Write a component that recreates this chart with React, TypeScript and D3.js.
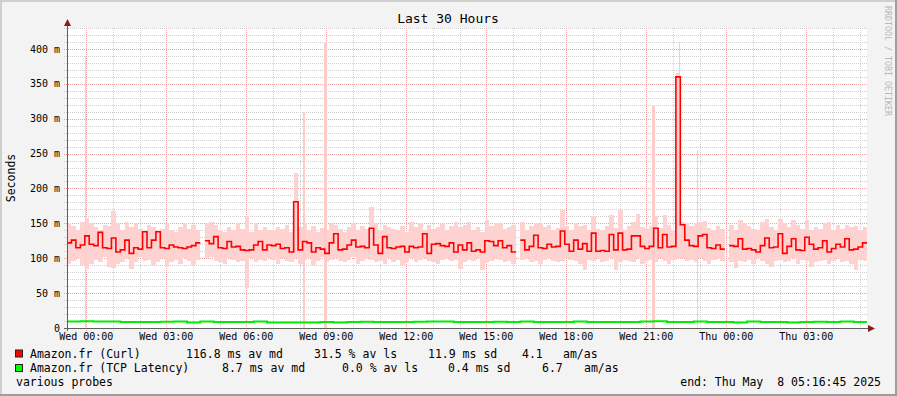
import * as d3 from 'd3';

const WIDTH = 897;
const HEIGHT = 396;
const PLOT = { left: 67, right: 867, top: 28, bottom: 328 };
const FONT = '"DejaVu Sans Mono", monospace';

const startTime = new Date(Date.UTC(2025, 4, 6, 23, 16, 45));
const endTime = new Date(Date.UTC(2025, 4, 8, 5, 16, 45));
const curlStepMinutes = 10;
const tcpStepMinutes = 30;
const yMaxMs = 430;
const yTicks = [0, 50, 100, 150, 200, 250, 300, 350, 400];

const NA = NaN;

// Amazon.fr (Curl), median per 10 min, ms
const curlMedianMs = [
  122, 126, 115, 119, 132, 120, 118, 137, 115, 114,
  129, 109, 112, 126, 107, 115, 113, 138, 115, 126,
  138, 115, 114, 119, 116, 115, 114, 116, 118, 122,
  NA, 125, 121, 131, 115, 114, 124, 116, 117, 112,
  111, 112, 119, 124, 112, 119, 118, 120, 114, 115,
  109, 181, 112, 124, 122, 109, 115, 113, 107, 122,
  135, 112, 113, 119, 126, 116, 117, 115, 143, 119,
  107, 131, 115, 114, 116, 117, 109, 117, 115, 116,
  135, 107, 120, 121, 118, 117, 122, 109, 119, 112,
  122, 110, 112, 109, 125, 124, 118, 125, 115, 118,
  109, NA, 126, 112, 117, 133, 115, 114, 120, 116,
  117, 139, 120, 110, 126, 113, 121, 110, 136, 110,
  111, 110, 134, 112, 136, 112, 113, 132, 132, 117,
  114, 117, 143, 115, 134, 116, 117, 360, 148, 126,
  118, 117, 132, 134, 115, 114, 119, 113, NA, 118,
  117, 128, 113, 114, 112, 109, 118, 129, 115, 116,
  135, 107, 117, 128, 112, 111, 130, 120, 113, 115,
  125, 109, 114, 120, 116, 128, 112, 113, 116, 122,
];

// smoke: highest ping per 10 min, ms
const curlSmokeHighMs = [
  150, 146, 140, 152, 158, 150, 145, 140, 148, 146,
  168, 150, 140, 152, 145, 150, 142, 138, 148, 145,
  140, 142, 150, 140, 138, 145, 150, 142, 148, 140,
  NA, 150, 152, 148, 140, 138, 145, 140, 150, 142,
  160, 138, 150, 140, 145, 140, 140, 145, 142, 148,
  138, 222, 145, 150, 140, 146, 138, 144, 140, 150,
  148, 142, 138, 145, 150, 140, 146, 142, 173, 150,
  140, 148, 145, 142, 140, 146, 138, 152, 145, 150,
  140, 148, 142, 145, 150, 140, 146, 152, 145, 148,
  152, 140, 145, 138, 155, 146, 150, 150, 142, 145,
  148, NA, 152, 140, 146, 150, 150, 145, 148, 140,
  144, 169, 146, 140, 150, 146, 148, 140, 160, 142,
  140, 146, 162, 143, 169, 140, 146, 152, 164, 145,
  142, 146, 160, 144, 162, 148, 140, 365, 152, 150,
  146, 150, 152, 154, 144, 140, 146, 142, NA, 148,
  140, 155, 150, 146, 142, 140, 152, 156, 145, 140,
  156, 150, 145, 155, 148, 142, 155, 140, 145, 142,
  150, 152, 140, 148, 142, 148, 145, 146, 140, 145,
];

// smoke: lowest ping per 10 min, ms
const curlSmokeLowMs = [
  92, 96, 100, 90, 84, 92, 98, 95, 102, 88,
  86, 92, 95, 100, 84, 94, 102, 96, 98, 90,
  95, 100, 88, 94, 98, 92, 100, 96, 90, 98,
  NA, 100, 102, 96, 95, 92, 100, 98, 94, 96,
  57, 100, 94, 98, 96, 100, 98, 92, 100, 96,
  94, 100, 92, 98, 100, 90, 96, 102, 94, 98,
  100, 96, 94, 98, 102, 92, 96, 100, 98, 94,
  96, 92, 100, 94, 98, 90, 95, 100, 94, 98,
  100, 96, 94, 92, 98, 100, 96, 98, 84, 95,
  98, 96, 100, 83, 94, 96, 100, 98, 94, 96,
  92, NA, 98, 100, 94, 96, 92, 98, 100, 96,
  94, 96, 100, 98, 96, 92, 83, 98, 96, 100,
  94, 96, 100, 83, 94, 98, 96, 94, 100, 92,
  96, 98, 94, 100, 96, 92, 98, 100, 100, 96,
  98, 94, 100, 96, 92, 98, 100, 96, NA, 94,
  86, 96, 94, 98, 92, 100, 96, 92, 88, 96,
  98, 94, 96, 100, 92, 98, 96, 88, 94, 96,
  98, 92, 96, 100, 94, 96, 92, 83, 98, 96,
];

// short bursts with timeouts (full-height smoke)
const burstHours = [0.71, 8.89, 9.71, 22.01, 22.95, 23.66];
const burstMinutes = [2, 4, 7, 7, 2, 2];
const burstTopMs = [390, 310, 410, 318, 410, 255];
const burstBottomMs = [0, 0, 0, 0, 140, 0];

// Amazon.fr (TCP Latency), median per 30 min, ms
const tcpMedianMs = [
  9.4, 9.6, 9.4, 9.3, 8.7, 8.6, 8.7, 8.8, 9.4, 8.0,
  9.4, 8.7, 8.6, 8.7, 9.4, 7.9, 8.0, 7.9, 8.0, 8.7,
  8.0, 8.7, 8.8, 8.7, 8.6, 8.7, 8.8, 9.4, 9.3, 8.7,
  8.6, 8.7, 8.8, 8.7, 9.4, 8.7, 8.6, 8.7, 9.4, 8.7,
  8.7, 8.6, 8.7, 9.4, 9.6, 8.7, 8.6, 9.4, 8.7, 8.7,
  7.8, 9.4, 8.7, 8.6, 7.9, 8.7, 8.8, 8.7, 9.4, 8.7,
];

const legendNames = ['Amazon.fr (Curl)', 'Amazon.fr (TCP Latency)'];
const legendColors = ['#ff0000', '#00ff00'];
const legendStats = [
  ['116.8 ms av md', '31.5 % av ls', '11.9 ms sd', '4.1', 'am/as'],
  ['8.7 ms av md', '0.0 % av ls', '0.4 ms sd', '6.7', 'am/as'],
];
const legendStatX = [
  [186, 314, 428, 522, 563],
  [222, 342, 448, 542, 584],
];

function stepPoints(values: number[], stepMin: number): [Date, number][] {
  const pts: [Date, number][] = [];
  values.forEach((v, i) => {
    pts.push([d3.utcMinute.offset(startTime, i * stepMin), v]);
    pts.push([d3.utcMinute.offset(startTime, (i + 1) * stepMin), v]);
  });
  return pts;
}

export default function App() {
  const x = d3.scaleUtc().domain([startTime, endTime]).range([PLOT.left, PLOT.right]);
  const y = d3.scaleLinear().domain([0, yMaxMs]).range([PLOT.bottom, PLOT.top]);
  const crisp = (v: number) => Math.round(v) + 0.5;

  const hours = d3.utcHour.range(startTime, endTime);
  const majorHours = hours.filter(h => h.getUTCHours() % 3 === 0);
  const minorMs = d3.range(10, yMaxMs + 1, 10);
  const fmt = d3.utcFormat('%a %H:%M');

  const line = d3.line<[Date, number]>()
    .defined(d => !isNaN(d[1]))
    .x(d => x(d[0]))
    .y(d => y(d[1]));

  const curlPath = line(stepPoints(curlMedianMs, curlStepMinutes)) || '';
  const tcpPath = line(stepPoints(tcpMedianMs, tcpStepMinutes)) || '';

  return (
    <svg width={WIDTH} height={HEIGHT} style={{ position: 'absolute', left: 0, top: 0 }}
      fontFamily={FONT}>
      {/* background and frame */}
      <rect x={0} y={0} width={WIDTH} height={HEIGHT} fill="#f3f3f3" />
      <path d={`M0,1H${WIDTH}M1,0V${HEIGHT}`} stroke="#cfcfcf" strokeWidth={2} />
      <path d={`M0,${HEIGHT - 1}H${WIDTH}M${WIDTH - 1},0V${HEIGHT}`} stroke="#9e9e9e" strokeWidth={2} />
      <rect x={PLOT.left} y={PLOT.top} width={PLOT.right - PLOT.left} height={PLOT.bottom - PLOT.top} fill="#ffffff" />

      {/* minor grid */}
      <g stroke="#cfcfcf" strokeDasharray="1,1" shapeRendering="crispEdges">
        {hours.filter(h => h.getUTCHours() % 3 !== 0).map(h => (
          <line key={+h} x1={crisp(x(h))} x2={crisp(x(h))} y1={PLOT.top} y2={PLOT.bottom + 3} />
        ))}
        {minorMs.filter(v => v % 50 !== 0).map(v => (
          <line key={v} x1={PLOT.left - 3} x2={PLOT.right} y1={crisp(y(v))} y2={crisp(y(v))} />
        ))}
      </g>
      {/* major grid */}
      <g stroke="#ef9f9f" strokeDasharray="1,1" shapeRendering="crispEdges">
        {majorHours.map(h => (
          <line key={+h} x1={crisp(x(h))} x2={crisp(x(h))} y1={PLOT.top} y2={PLOT.bottom + 3} />
        ))}
        {yTicks.filter(v => v > 0).map(v => (
          <line key={v} x1={PLOT.left - 3} x2={PLOT.right} y1={crisp(y(v))} y2={crisp(y(v))} />
        ))}
      </g>

      {/* smoke */}
      <g fill="#ffd2d2" shapeRendering="crispEdges">
        {curlSmokeHighMs.map((hi, i) => {
          const lo = curlSmokeLowMs[i];
          if (isNaN(hi) || isNaN(lo)) return null;
          const x0 = x(d3.utcMinute.offset(startTime, i * curlStepMinutes));
          const x1 = x(d3.utcMinute.offset(startTime, (i + 1) * curlStepMinutes));
          return <rect key={i} x={x0} width={x1 - x0} y={y(hi)} height={y(lo) - y(hi)} />;
        })}
        {burstHours.map((h, i) => {
          const t = new Date(+startTime + h * 3600e3);
          const x0 = x(t);
          const w = Math.max(1, x(d3.utcMinute.offset(t, burstMinutes[i])) - x0);
          return <rect key={'b' + i} x={x0 - w / 2} width={w} y={y(burstTopMs[i])}
            height={y(burstBottomMs[i]) - y(burstTopMs[i])} fill="#ffcaca" />;
        })}
      </g>

      {/* medians */}
      <path d={tcpPath} fill="none" stroke="#00ee00" strokeWidth={2} />
      <path d={curlPath} fill="none" stroke="#ff0000" strokeWidth={1.6} />

      {/* axes */}
      <g stroke="#5f5f5f" shapeRendering="crispEdges">
        <line x1={PLOT.left - 3} x2={PLOT.right + 3} y1={PLOT.bottom + 0.5} y2={PLOT.bottom + 0.5} />
        <line x1={PLOT.left + 0.5} x2={PLOT.left + 0.5} y1={PLOT.top - 4} y2={PLOT.bottom + 3} />
      </g>
      <path d={`M${PLOT.right + 1},${PLOT.bottom - 3}L${PLOT.right + 8},${PLOT.bottom + 0.5}L${PLOT.right + 1},${PLOT.bottom + 4}Z`} fill="#8b1a1a" />
      <path d={`M${PLOT.left - 3},${PLOT.top - 2}L${PLOT.left + 0.5},${PLOT.top - 9}L${PLOT.left + 4},${PLOT.top - 2}Z`} fill="#8b1a1a" />

      {/* tick labels */}
      <g fontSize={10} fill="#000">
        {yTicks.map(v => (
          <text key={v} x={60} y={y(v)} dy="0.36em" textAnchor="end">{v === 0 ? '0' : `${v} m`}</text>
        ))}
        {majorHours.map(h => (
          <text key={+h} x={x(h)} y={340} textAnchor="middle">{fmt(h)}</text>
        ))}
      </g>

      {/* titles */}
      <text x={448} y={23} fontSize={13} textAnchor="middle" fill="#000">Last 30 Hours</text>
      <text transform={`translate(15,${(PLOT.top + PLOT.bottom) / 2}) rotate(-90)`} fontSize={11.5}
        textAnchor="middle" fill="#000">Seconds</text>
      <text transform="translate(885,6) rotate(90)" fontSize={8.3} fill="#b8b8b8">RRDTOOL / TOBI OETIKER</text>

      {/* legend */}
      <g fontSize={11.5} fill="#000">
        {legendNames.map((name, i) => {
          const by = 357.5 + i * 14.5;
          return (
            <g key={name}>
              <rect x={15.5} y={by - 7.5} width={7} height={7} fill={legendColors[i]} stroke="#222" strokeWidth={1} />
              <text x={30} y={by}>{name}</text>
              {legendStats[i].map((s, j) => (
                <text key={j} x={legendStatX[i][j]} y={by}>{s}</text>
              ))}
            </g>
          );
        })}
        <text x={16} y={386}>various probes</text>
        <text x={881} y={386} textAnchor="end" xmlSpace="preserve">end: Thu May  8 05:16:45 2025</text>
      </g>
    </svg>
  );
}
